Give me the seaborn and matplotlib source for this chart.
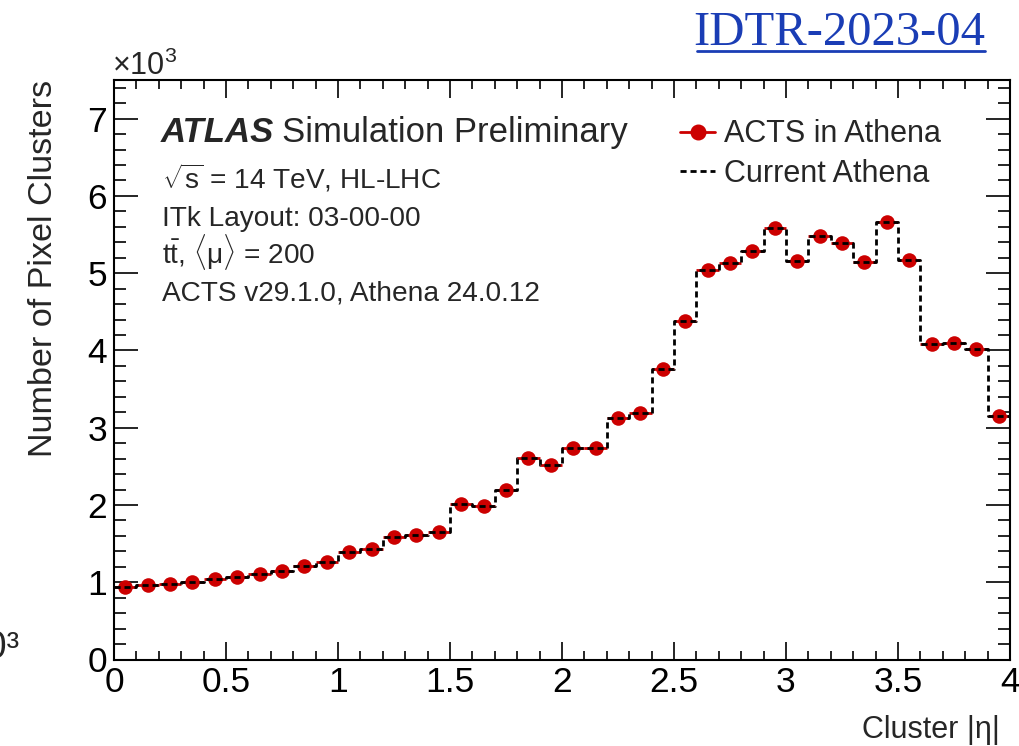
import numpy as np
import pandas as pd
import seaborn as sns
import matplotlib.pyplot as plt
from matplotlib.lines import Line2D
from matplotlib.ticker import MultipleLocator

# Binning in cluster |eta|
bin_edges = [round(0.1 * i, 2) for i in range(41)]
bin_centers = [round(0.1 * i + 0.05, 3) for i in range(40)]

# Number of pixel clusters per bin (x10^3)
acts_in_athena = [0.94, 0.96, 0.975, 1.005, 1.036, 1.062, 1.105, 1.148, 1.212, 1.264,
                  1.386, 1.433, 1.588, 1.606, 1.645, 2.012, 1.99, 2.193, 2.61, 2.517,
                  2.733, 2.733, 3.13, 3.186, 3.76, 4.385, 5.04, 5.135, 5.285, 5.59,
                  5.16, 5.485, 5.385, 5.15, 5.665, 5.17, 4.085, 4.10, 4.02, 3.155]
current_athena = list(acts_in_athena)

x_ticks = [0, 0.5, 1, 1.5, 2, 2.5, 3, 3.5, 4]
x_tick_labels = ["0", "0.5", "1", "1.5", "2", "2.5", "3", "3.5", "4"]
y_ticks = [0, 1, 2, 3, 4, 5, 6, 7]
y_tick_labels = ["0", "1", "2", "3", "4", "5", "6", "7"]

df = pd.DataFrame({"eta": bin_centers, "acts": acts_in_athena, "athena": current_athena})

sns.set_theme(style="ticks")
plt.rcParams["font.family"] = ["Liberation Sans", "DejaVu Sans"]
plt.rcParams["mathtext.fontset"] = "custom"
plt.rcParams["mathtext.rm"] = "Liberation Sans"
plt.rcParams["mathtext.it"] = "Liberation Sans:italic"
plt.rcParams["mathtext.bf"] = "Liberation Sans:bold"

RED = "#cc0000"
DASH = (0, (2.2, 1.4))

fig = plt.figure(figsize=(10.2, 7.46), dpi=100)
ax = fig.add_axes([114 / 1020, 1 - 659.5 / 746, (1010 - 114) / 1020, (659.5 - 80) / 746])

# ACTS in Athena: bin-width bars and markers
ax.errorbar(df["eta"], df["acts"], xerr=0.05, fmt="none", ecolor=RED, elinewidth=2.0,
            capsize=0, zorder=2)
sns.scatterplot(data=df, x="eta", y="acts", ax=ax, color=RED, s=110, edgecolor=RED,
                linewidth=0, zorder=3, legend=False)

# Current Athena: dashed step histogram
sns.histplot(data=df, x="eta", weights="athena", bins=bin_edges, element="step",
             fill=False, color="black", linewidth=2.0, linestyle=DASH,
             ax=ax, zorder=4, legend=False)

ax.set_xlim(0, 4)
ax.set_ylim(0, 7.5)
ax.set_xticks(x_ticks)
ax.set_xticklabels(x_tick_labels)
ax.set_yticks(y_ticks)
ax.set_yticklabels(y_tick_labels)
ax.xaxis.set_minor_locator(MultipleLocator(0.1))
ax.yaxis.set_minor_locator(MultipleLocator(0.2))
ax.tick_params(axis="both", which="both", direction="in", top=True, right=True,
               labelsize=25.5, width=1.2, colors="black")
ax.tick_params(axis="x", which="major", length=13, pad=5)
ax.tick_params(axis="x", which="minor", length=6.5)
ax.tick_params(axis="y", which="major", length=17.5, pad=5)
ax.tick_params(axis="y", which="minor", length=8.7)
for sp in ax.spines.values():
    sp.set_linewidth(1.5)
    sp.set_color("black")

ax.set_xlabel("Cluster |η|", fontsize=22, loc="right")
ax.xaxis.set_label_coords(0.989, -0.095)
ax.set_ylabel("Number of Pixel Clusters", fontsize=24.6, loc="top")
ax.yaxis.set_label_coords(-0.061, 1.0)

# Axis multiplier
fig.text(112 / 1020, 1 - 66 / 746, r"×10$^{3}$", fontsize=22, ha="left", va="center")

# ATLAS label block
atlas = ax.text(0.0525, 0.893, "ATLAS", transform=ax.transAxes, fontsize=25,
                fontweight="bold", fontstyle="italic", ha="left", va="baseline")
ax.annotate("Simulation Preliminary", xy=(1, 0), xycoords=atlas, xytext=(8, 0),
            textcoords="offset pixels", fontsize=25, ha="left", va="bottom")
info_lines = [r"$\sqrt{\mathrm{s}}$ = 14 TeV, HL-LHC",
              "ITk Layout: 03-00-00",
              r"$\mathrm{t\bar{t}}$, $\langle\mathrm{\mu}\rangle$ = 200",
              "ACTS v29.1.0, Athena 24.0.12"]
for i, line in enumerate(info_lines):
    ax.text(0.0535, 0.812 - i * 0.0639, line, transform=ax.transAxes,
            fontsize=20.2, ha="left", va="baseline")

# Legend
handles = [Line2D([], [], color=RED, marker="o", markersize=10.5, linewidth=2.0),
           Line2D([], [], color="black", linestyle=DASH, linewidth=2.0)]
ax.legend(handles, ["ACTS in Athena", "Current Athena"], loc="upper left",
          bbox_to_anchor=(0.618, 0.953), frameon=False, fontsize=22,
          handlelength=1.15, handletextpad=0.28, labelspacing=0.3, borderaxespad=0)

# Document reference
fig.text(985 / 1020, 1 - 33 / 746, "IDTR-2023-04", fontsize=35, ha="right", va="center",
         color="#1a3db5", family=["Liberation Serif", "DejaVu Serif"])
fig.add_artist(Line2D([697 / 1020, 985 / 1020], [1 - 51 / 746, 1 - 51 / 746],
                      color="#1a3db5", linewidth=2.0, transform=fig.transFigure))

# Partial label at the left page edge
fig.text(20 / 1020, 1 - 648 / 746, "×10³", fontsize=27, ha="right", va="center")

fig.savefig("out.png", dpi=100)
